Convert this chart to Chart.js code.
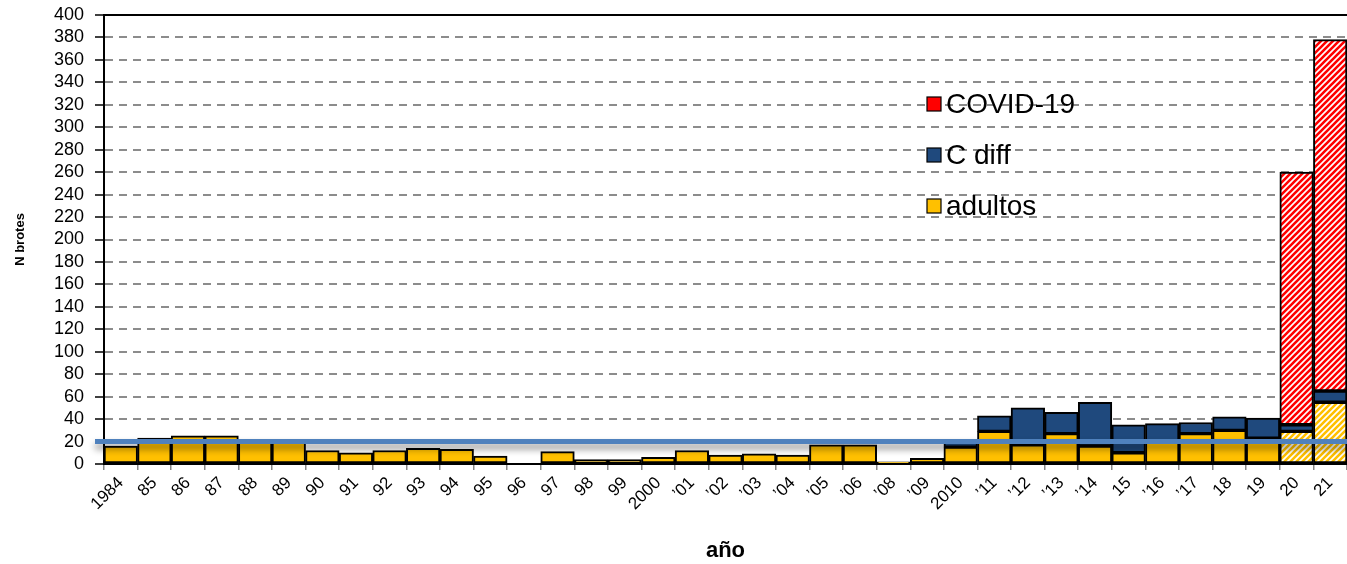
<!DOCTYPE html>
<html>
<head>
<meta charset="utf-8">
<script src="https://cdn.jsdelivr.net/npm/chart.js"></script>
<style>
  html, body { margin: 0; padding: 0; background: #fff; }
  #wrap { width: 1347px; height: 564px; }
</style>
</head>
<body>
<div id="wrap"><canvas id="grafico" width="1347" height="564"></canvas></div>
<script>
// datos
const anios = ['1984','85','86','87','88','89','90','91','92','93','94','95','96','97','98','99','2000',
  '\u201901','\u201902','\u201903','\u201904','\u201905','\u201906','\u201908','\u201909','2010',
  '\u201911','\u201912','\u201913','\u201914','15','\u201916','\u201917','18','19','20','21'];
const adultos = [16,23,25,25,20,20,12,10,12,14,13,7,0,11,4,4,6,12,8,9,8,17,17,2,5,15,29,17,27,16,10,20,27,30,23,29,55];
const cdiff = [null,null,null,null,null,null,null,null,null,null,null,null,null,null,null,null,null,null,null,null,null,null,null,null,null,
  5,14,33,19,39,25,16,10,12,18,6,10];
const covid = [null,null,null,null,null,null,null,null,null,null,null,null,null,null,null,null,null,null,null,null,null,null,null,null,null,
  null,null,null,null,null,null,null,null,null,null,225,313];
const referencia = 20;
const yTicks = [0,20,40,60,80,100,120,140,160,180,200,220,240,260,280,300,320,340,360,380,400];

const AMARILLO = '#FFC000';
const AZUL = '#1F497D';
const ROJO = '#FF0000';
const FUENTE = "'Liberation Sans', Arial, sans-serif";

// rayado diagonal para los anios provisionales
function rayado(color) {
  const c = document.createElement('canvas');
  c.width = 6; c.height = 6;
  const g = c.getContext('2d');
  g.fillStyle = '#fff';
  g.fillRect(0, 0, 6, 6);
  g.strokeStyle = color;
  g.lineWidth = 2.6;
  g.beginPath();
  g.moveTo(-1, 7); g.lineTo(7, -1);
  g.moveTo(-4, 4); g.lineTo(4, -4);
  g.moveTo(2, 10); g.lineTo(10, 2);
  g.stroke();
  return g.createPattern(c, 'repeat');
}
const rayaAmarilla = rayado(AMARILLO);
const rayaRoja = rayado(ROJO);

const coloresAdultos = anios.map((a, i) => i >= anios.length - 2 ? rayaAmarilla : AMARILLO);

// linea azul de referencia con sombra
const lineaReferencia = {
  id: 'lineaReferencia',
  afterDatasetsDraw(chart) {
    const ctx = chart.ctx;
    const y = chart.scales.y.getPixelForValue(referencia);
    ctx.save();
    ctx.shadowColor = 'rgba(0,0,0,0.45)';
    ctx.shadowBlur = 7;
    ctx.shadowOffsetY = 5;
    ctx.strokeStyle = '#4F81BD';
    ctx.lineWidth = 5;
    ctx.beginPath();
    ctx.moveTo(chart.chartArea.left - 9, y);
    ctx.lineTo(chart.width, y);
    ctx.stroke();
    ctx.restore();
  }
};

// leyenda dentro del area del grafico
const leyenda = {
  id: 'leyenda',
  afterDatasetsDraw(chart) {
    const ctx = chart.ctx;
    const items = [['COVID-19', ROJO], ['C diff', AZUL], ['adultos', AMARILLO]];
    ctx.save();
    ctx.font = '28px ' + FUENTE;
    ctx.textBaseline = 'middle';
    items.forEach((it, i) => {
      const y = 104 + i * 51;
      ctx.fillStyle = it[1];
      ctx.fillRect(927, y - 7, 14, 14);
      ctx.strokeStyle = '#000';
      ctx.lineWidth = 1.2;
      ctx.strokeRect(927, y - 7, 14, 14);
      ctx.fillStyle = '#000';
      ctx.fillText(it[0], 946, y + 1);
    });
    ctx.restore();
  }
};

const ctx = document.getElementById('grafico').getContext('2d');
const grafico = new Chart(ctx, {
  type: 'bar',
  data: {
    labels: anios,
    datasets: [
      { label: 'adultos', data: adultos, backgroundColor: coloresAdultos, borderColor: '#000', borderWidth: 2, borderSkipped: false },
      { label: 'C diff', data: cdiff, backgroundColor: AZUL, borderColor: '#000', borderWidth: 2, borderSkipped: false },
      { label: 'COVID-19', data: covid, backgroundColor: rayaRoja, borderColor: '#000', borderWidth: 2, borderSkipped: false }
    ]
  },
  options: {
    responsive: false,
    animation: false,
    layout: { padding: { top: 15, right: 0, left: 0, bottom: 0 } },
    datasets: { bar: { categoryPercentage: 1, barPercentage: 1 } },
    plugins: {
      legend: { display: false },
      tooltip: { enabled: false }
    },
    scales: {
      x: {
        stacked: true,
        grid: { offset: true, drawOnChartArea: false, color: '#888', tickLength: 6, lineWidth: 1.5 },
        border: { color: '#000', width: 2 },
        ticks: {
          autoSkip: false, minRotation: 45, maxRotation: 45, padding: 3,
          color: '#000', font: { family: FUENTE, size: 17 }
        },
        title: { display: true, text: 'año', color: '#000', font: { family: FUENTE, size: 22, weight: 'bold' }, padding: { top: 0, bottom: 0 } },
        afterFit(s) { s.height = 100; s.paddingRight = 0; }
      },
      y: {
        stacked: true,
        min: 0, max: 400,
        afterBuildTicks(s) { s.ticks = yTicks.map(v => ({ value: v })); },
        grid: {
          color: c => c.tick && c.tick.value === 400 ? '#000' : (c.tick && c.tick.value === 0 ? 'rgba(0,0,0,0)' : '#8c8c8c'),
          lineWidth: 2,
          tickLength: 9,
          tickColor: '#000',
          tickWidth: 1.5
        },
        border: {
          color: '#000', width: 2,
          dash: c => (c.type === 'tick' && c.tick.value !== 400) ? [8, 6] : []
        },
        ticks: { autoSkip: false, padding: 11, color: '#000', font: { family: FUENTE, size: 18 } },
        title: { display: true, text: 'N brotes', color: '#000', font: { family: FUENTE, size: 13, weight: 'bold' }, padding: { top: 13, bottom: 0 } },
        afterFit(s) { s.width = 104; s.paddingTop = 0; s.paddingBottom = 0; }
      }
    }
  },
  plugins: [lineaReferencia, leyenda]
});
</script>
</body>
</html>
